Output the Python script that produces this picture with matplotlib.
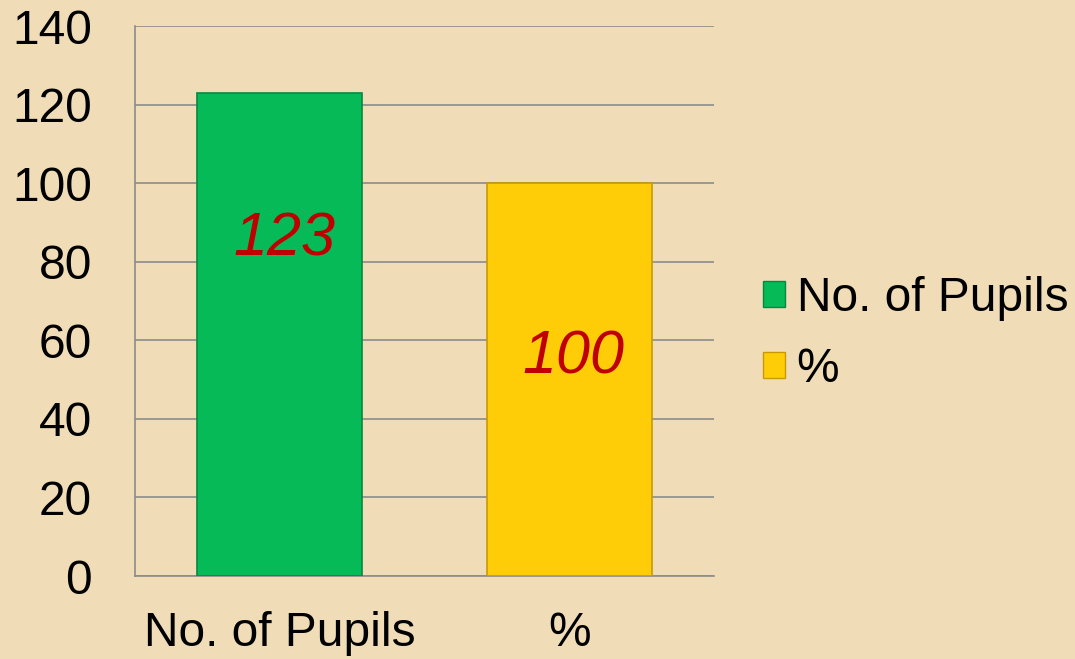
import matplotlib
matplotlib.use("Agg")
import matplotlib.pyplot as plt
from matplotlib.patches import Patch

categories = ["No. of Pupils", "%"]
values = [123, 100]
bar_colors = ["#06BA58", "#FFCC08"]
edge_colors = ["#048a40", "#c89a00"]
label_frac = [0.695, 0.555]  # label vertical position as fraction of bar height
yticks = [0, 20, 40, 60, 80, 100, 120, 140]

plt.rcParams['font.family'] = ['Liberation Sans', 'DejaVu Sans']
bg = "#F0DDB8"
fig = plt.figure(figsize=(10.75, 6.59), dpi=100, facecolor=bg)
ax = fig.add_axes([135/1075, 1-576/659, (714-135)/1075, (576-26)/659])
ax.set_facecolor("none")

x = list(range(len(categories)))
bars = ax.bar(x, values, width=0.57, color=bar_colors, edgecolor=edge_colors, linewidth=1.2, zorder=3)
for xi, v, f in zip(x, values, label_frac):
    ax.text(xi + 0.015, v * f, str(v), ha="center", va="center", fontsize=44,
            style="italic", color="#C00000", zorder=4)

ax.set_xlim(-0.5, 1.5)
ax.set_ylim(0, 140)
ax.set_yticks(yticks)
ax.set_xticks(x)
ax.set_xticklabels(categories)
ax.tick_params(axis="both", length=0, labelsize=34.5, colors="black")
ax.tick_params(axis="y", pad=31)
ax.tick_params(axis="x", pad=25)
ax.yaxis.grid(True, color="#8C8C8C", linewidth=1.2, zorder=0)
ax.xaxis.grid(False)
for s in ["top", "right"]:
    ax.spines[s].set_visible(False)
for s in ["left", "bottom"]:
    ax.spines[s].set_color("#8C8C8C")
    ax.spines[s].set_linewidth(1.2)

handles = [Patch(facecolor=c, edgecolor=e, label=l) for c, e, l in zip(bar_colors, edge_colors, categories)]
fig.legend(handles=handles, loc="center left", bbox_to_anchor=(763/1075, 1-334/659),
           frameon=False, fontsize=34.5, handlelength=0.45, handleheight=0.45,
           handletextpad=0.25, labelspacing=0.55, borderaxespad=0, borderpad=0)

fig.savefig("out.png", dpi=100, facecolor=bg)
